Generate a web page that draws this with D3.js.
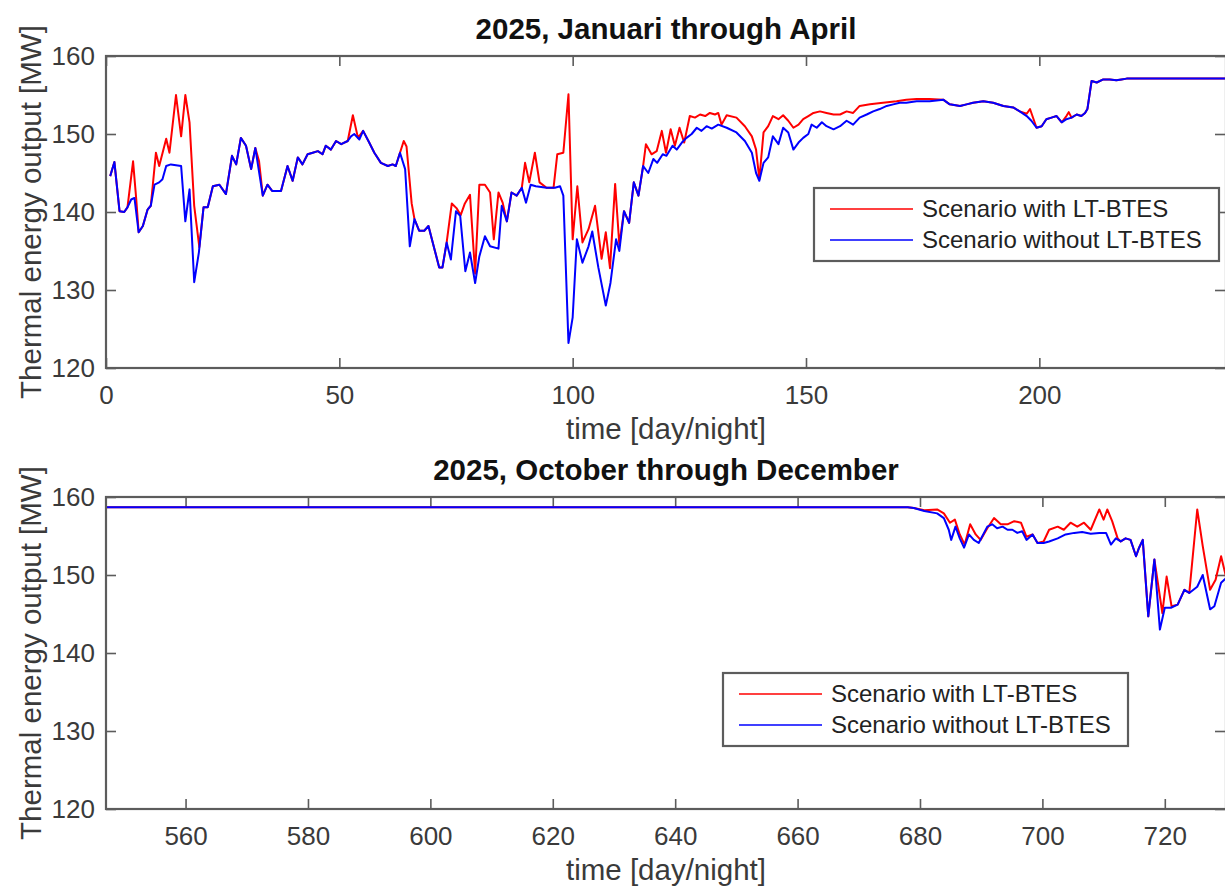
<!DOCTYPE html>
<html>
<head>
<meta charset="utf-8">
<script src="https://cdn.jsdelivr.net/npm/d3@7"></script>
<style>
  body { margin: 0; background: #fff; }
  svg { display: block; font-family: "Liberation Sans", Arial, sans-serif; }
</style>
</head>
<body>
<div id="chart"></div>
<script>
// series names (legend)
const seriesNames = ['Scenario with LT-BTES', 'Scenario without LT-BTES'];
const seriesColors = ['#ff0000', '#0000ff'];

// y ticks shared by both panels
const yTicks = [120, 130, 140, 150, 160];

// panel 1: January - April, [time step, MW]
const janXTicks = [0, 50, 100, 150, 200];
const janWithout = [
  [0.9,144.6],[1.8,146.4],[2.9,140.1],[3.9,140],[4.6,140.6],[5.4,141.6],[6.1,141.8],[7,137.4],[7.9,138.2],[8.9,140.3],
  [9.6,140.8],[10.4,143.5],[11.4,143.8],[12.1,144.2],[12.9,145.9],[13.9,146.1],[16.1,145.9],[17,138.8],[17.9,142.9],[18.9,131],
  [19.9,134.8],[20.9,140.6],[21.8,140.6],[22.9,143.3],[24.3,143.5],[25.7,142.3],[27,147.2],[27.9,146.1],[28.9,149.5],[30,148.5],
  [31.1,145.5],[32,148.2],[33.6,142.1],[34.6,143.5],[35.6,142.7],[37.5,142.7],[38.9,145.9],[40,144],[41.1,147],[42.1,146.1],
  [43.2,147.4],[44.3,147.6],[45.4,147.8],[46.4,147.4],[47.1,148.5],[48.2,148],[49.3,149.1],[50.4,148.7],[51.8,149.1],[52.5,149.7],
  [53.2,150],[54.3,149.3],[55.1,150.4],[56.4,148.9],[57.5,147.6],[58.9,146.3],[60.4,145.9],[61.4,146.1],[62.1,145.9],[63,147.6],
  [64.1,145.5],[65.1,135.6],[66.1,139.1],[67.1,137.6],[68.2,137.6],[69.1,138.2],[70.4,135.2],[71.4,132.9],[72.1,132.9],[73,136.1],
  [73.9,133.9],[75,140.1],[75.9,139.5],[77,132.4],[78,134.8],[79.1,130.9],[80,134.3],[81.2,136.9],[82.3,135.6],[84.1,135.3],
  [84.8,140.8],[85.9,138.8],[86.9,142.5],[88,142.1],[89.1,143.1],[90,141.2],[91,143.5],[92.1,143.3],[94.4,143.1],[96.2,143.1],
  [97.3,143.3],[98,142.1],[99.1,123.2],[100,126.5],[100.9,136.5],[102.1,133.5],[103.4,135.6],[104.2,137.5],[105.5,132.9],[107.1,128],
  [108.1,130.9],[109.3,136.5],[110,135],[111,140.1],[112.1,138.6],[113.1,143.8],[114.1,142.1],[115.1,145.9],[116.2,145],[117.3,146.8],
  [118.1,146.3],[119.3,147.4],[120.1,147.2],[121.4,148.5],[122.3,148],[123.4,148.9],[124.4,149.5],[125.5,150],[126.6,150.8],[127.6,150.4],
  [128.7,151],[129.8,150.7],[131.2,151.2],[133,150.8],[135.1,150.2],[136.9,149.1],[138.4,147.6],[139.3,145],[140,144],[140.9,146.3],
  [141.9,147],[142.9,149.7],[144.1,148.7],[145.1,150.8],[146.2,150.2],[147.3,148],[148.4,148.9],[149.4,149.5],[150.5,150],[151.2,151.2],
  [152.3,150.8],[153.4,151.5],[154.4,151],[155.9,150.6],[157.3,151],[158.7,151.7],[160.1,151.2],[161.5,152.1],[163,152.5],[164.4,152.9],
  [165.8,153.2],[167.3,153.6],[168.7,153.8],[170.1,154],[171.5,154],[173.7,154.2],[176.5,154.2],[179.4,154.4],[180.8,153.8],[183,153.6],
  [184.4,153.8],[185.8,154],[188,154.2],[190.1,154],[192.3,153.6],[194.4,153.4],[195.8,152.9],[197.3,152.3],[198.3,151.7],[199.4,150.8],
  [200.5,151],[201.5,151.9],[202.6,152.1],[203.7,152.3],[204.8,151.5],[205.8,151.9],[206.9,152.1],[208,152.5],[209,152.3],[209.8,152.7],
  [210.3,153.2],[211.2,156.8],[212.3,156.6],[213.7,157],[215.1,157],[216.5,156.9],[217.6,157],[218.7,157.1],[240,157.1]
];
const janWith = [
  [0.9,144.6],[1.8,146.4],[2.9,140.1],[3.9,140],[4.6,140.6],[5.8,146.5],[6.5,141.5],[7,137.4],[7.9,138.2],[8.9,140.3],
  [9.6,140.8],[10.7,147.6],[11.4,145.9],[12.9,149.4],[13.6,147.6],[15,155],[16.1,149.7],[17,155],[17.9,151.5],[18.9,140.8],
  [20,135.5],[20.9,140.6],[21.8,140.6],[22.9,143.3],[24.3,143.5],[25.7,142.3],[27,147.2],[27.9,146.1],[28.9,149.5],[30,148.5],
  [31.1,145.5],[32,148.2],[32.8,146.5],[33.6,142.1],[34.6,143.5],[35.6,142.7],[37.5,142.7],[38.9,145.9],[40,144],[41.1,147],
  [42.1,146.1],[43.2,147.4],[44.3,147.6],[45.4,147.8],[46.4,147.4],[47.1,148.5],[48.2,148],[49.3,149.1],[50.4,148.7],[51.8,149.1],
  [52.9,152.4],[54,149.5],[55.1,150.4],[56.4,148.9],[57.5,147.6],[58.9,146.3],[60.4,145.9],[61.4,146.1],[62.1,145.9],[63,147.6],
  [63.8,149.1],[64.4,148.4],[65.5,141.1],[66.1,139.1],[67.1,137.6],[68.2,137.6],[69.1,138.2],[70.4,135.2],[71.4,132.9],[72.1,132.9],
  [73,136.1],[74.1,141.1],[75.1,140.5],[76,139.6],[76.9,141.1],[78,142.2],[79.1,132.1],[80,143.5],[81.2,143.5],[82.3,142.5],
  [83.1,136.5],[84.1,142.5],[85,141.2],[85.9,138.8],[86.9,142.5],[88,142.1],[89.1,143.1],[89.8,146.3],[90.7,143.8],[91.9,147.6],
  [92.9,143.8],[94.4,143.1],[95.9,143.1],[96.7,147.4],[98,147.6],[99.1,155.1],[100,136.5],[101,143.3],[102.1,136.1],[103.4,137.8],
  [104.8,140.8],[106.2,134],[107.1,137.4],[108,132.8],[109.1,143.6],[110,135.8],[111,140.1],[112.1,138.6],[113.1,143.8],[114.1,142.1],
  [115.1,145.9],[115.7,148.7],[116.9,147.4],[118,147.8],[119.1,150.4],[120,147.6],[121,150.6],[121.9,148.5],[122.9,150.8],[123.9,148.9],
  [125.1,152.3],[126.2,152.1],[127.3,152.5],[128.4,152.3],[129.4,152.7],[130.5,152.5],[131.2,152.7],[131.9,151.2],[133,152.4],[135.1,152.1],
  [136.9,151],[138.4,149.7],[139.3,148],[140,144.2],[140.9,150.2],[141.9,151],[142.9,152.3],[144.1,151.9],[145.1,152.4],[146.2,151.7],
  [147.3,150.8],[148.4,151.2],[149.4,151.9],[150.5,152.3],[151.6,152.7],[153,152.9],[154.4,152.7],[155.9,152.5],[157.3,152.5],[158.7,152.9],
  [160.1,152.7],[161.5,153.6],[163.7,153.8],[166.5,154],[169.4,154.2],[171.5,154.4],[173.7,154.5],[176.5,154.5],[179.4,154.4],[180.8,153.8],
  [183,153.6],[184.4,153.8],[185.8,154],[188,154.2],[190.1,154],[192.3,153.6],[194.4,153.4],[195.8,152.9],[197.3,152.6],[198,153.2],
  [199.4,150.8],[200.5,151],[201.5,151.9],[202.6,152.1],[203.7,152.3],[204.8,151.5],[205.8,152.3],[206.3,152.8],[206.9,152.1],[208,152.5],
  [209,152.3],[209.8,152.7],[210.3,153.2],[211.2,156.8],[212.3,156.6],[213.7,157],[215.1,157],[216.5,156.9],[217.6,157],[218.7,157.1],
  [240,157.1]
];

// panel 2: October - December
const octXTicks = [560, 580, 600, 620, 640, 660, 680, 700, 720];
const octWithout = [
  [547,158.7],[678,158.7],[679,158.6],[680.7,158.2],[682.8,157.9],[683.9,157.3],[684.7,155.8],[685.1,154.5],[685.8,156.2],[686.5,154.7],
  [687.2,153.5],[688,155.2],[688.8,154.5],[689.6,154.1],[691,156.2],[691.8,156.5],[692.6,156],[693.5,156.2],[694.3,155.8],[695.1,155.8],
  [695.9,155.4],[696.7,155.6],[697.4,154.5],[698.4,155.2],[699.2,154.1],[700.2,154.1],[701.1,154.3],[702.5,154.7],[703.8,155.2],[705.2,155.4],
  [706.5,155.5],[707.9,155.3],[709.3,155.4],[710.4,155.4],[711.2,153.9],[712,154.7],[712.8,154.3],[713.6,154.7],[714.4,154.5],[715.3,152.4],
  [715.8,153.5],[716.4,154.5],[717.3,144.7],[718.3,152],[719.2,143],[720,145.8],[721,145.8],[722.1,146.2],[723.2,148.1],[724,147.7],
  [725.3,148.5],[726.2,150],[727.4,145.6],[728.1,146],[729.2,149],[730,149.6]
];
const octWith = [
  [547,158.7],[678,158.7],[679,158.6],[680.7,158.3],[682.8,158.4],[683.9,157.9],[684.9,156.7],[685.7,157.1],[686.5,155.2],[687.3,153.9],
  [688.2,156.5],[689.1,155.2],[689.9,154.5],[691,156],[692.1,157.3],[693.2,156.5],[694.3,156.5],[695.4,156.9],[696.5,156.7],[697.4,154.9],
  [698.4,155.2],[699.2,154.1],[700.2,154.3],[701.1,155.8],[702.5,156.2],[703.5,155.8],[704.6,156.7],[705.7,156.2],[706.8,156.7],[707.9,155.8],
  [709.3,158.4],[710,157.1],[710.6,158.4],[711.4,156.9],[712.3,154.7],[712.8,154.3],[713.6,154.7],[714.4,154.5],[715.3,152.4],[715.8,153.5],
  [716.4,154.5],[717.3,144.7],[718.3,152],[719.6,145.1],[720.3,149.8],[721.1,146],[722.1,146.2],[723.2,148.1],[724,147.7],[725.3,158.4],
  [726.2,153.7],[727.4,148.1],[728.3,149.4],[729.2,152.4],[730,149.8]
];

const W = 1225, H = 891;
const axisColor = '#5c5c5c';
const textColor = '#3a3a3a';

const svg = d3.select('#chart').append('svg')
  .attr('width', W)
  .attr('height', H);

const panels = [
  {
    id: 'jan', title: '2025, Januari through April',
    top: 56, bottom: 368, xDomain: [0, 240], xTicks: janXTicks,
    series: [janWith, janWithout], legend: { x: 814, y: 188 }
  },
  {
    id: 'oct', title: '2025, October through December',
    top: 497, bottom: 809, xDomain: [547, 730], xTicks: octXTicks,
    series: [octWith, octWithout], legend: { x: 723, y: 673 }
  }
];

const left = 106, right = 1226;

panels.forEach(p => {
  const g = svg.append('g');
  const x = d3.scaleLinear().domain(p.xDomain).range([left, right]);
  const y = d3.scaleLinear().domain([120, 160]).range([p.bottom, p.top]);

  // clip
  g.append('clipPath').attr('id', 'clip-' + p.id)
    .append('rect')
    .attr('x', left).attr('y', p.top)
    .attr('width', right - left).attr('height', p.bottom - p.top);

  // axes with inward ticks
  const bottomAx = g.append('g')
    .attr('transform', `translate(0,${p.bottom})`)
    .call(d3.axisBottom(x).tickValues(p.xTicks).tickSizeInner(-10).tickSizeOuter(0).tickPadding(18));
  const topAx = g.append('g')
    .attr('transform', `translate(0,${p.top})`)
    .call(d3.axisTop(x).tickValues(p.xTicks).tickSizeInner(-10).tickSizeOuter(0).tickFormat(''));
  const leftAx = g.append('g')
    .attr('transform', `translate(${left},0)`)
    .call(d3.axisLeft(y).tickValues(yTicks).tickSizeInner(-10).tickSizeOuter(0).tickPadding(11));
  const rightAx = g.append('g')
    .attr('transform', `translate(${right - 1},0)`)
    .call(d3.axisRight(y).tickValues(yTicks).tickSizeInner(-10).tickSizeOuter(0).tickFormat(''));

  [bottomAx, topAx, leftAx, rightAx].forEach(a => {
    a.select('.domain').remove();
    a.selectAll('.tick line').attr('stroke', axisColor).attr('stroke-width', 1.6);
    a.selectAll('.tick text')
      .attr('fill', textColor)
      .attr('font-size', 26)
      .attr('font-family', '"Liberation Sans", Arial, sans-serif');
  });

  // lines: red first, blue on top
  const line = d3.line().x(d => x(d[0])).y(d => y(d[1]));
  p.series.forEach((s, i) => {
    g.append('path')
      .datum(s)
      .attr('clip-path', `url(#clip-${p.id})`)
      .attr('fill', 'none')
      .attr('stroke', seriesColors[i])
      .attr('stroke-width', 2)
      .attr('stroke-linejoin', 'round')
      .attr('d', line);
  });

  // box
  g.append('rect')
    .attr('x', left).attr('y', p.top)
    .attr('width', right - left).attr('height', p.bottom - p.top)
    .attr('fill', 'none')
    .attr('stroke', axisColor)
    .attr('stroke-width', 2.2);

  // title
  g.append('text')
    .attr('x', (left + right) / 2)
    .attr('y', p.top - 17)
    .attr('text-anchor', 'middle')
    .attr('font-size', 29.5)
    .attr('font-weight', 'bold')
    .attr('fill', '#111')
    .text(p.title);

  // x label
  g.append('text')
    .attr('x', (left + right) / 2)
    .attr('y', p.bottom + 71)
    .attr('text-anchor', 'middle')
    .attr('font-size', 29.5)
    .attr('fill', textColor)
    .text('time [day/night]');

  // y label
  g.append('text')
    .attr('transform', `translate(41,${(p.top + p.bottom) / 2}) rotate(-90)`)
    .attr('text-anchor', 'middle')
    .attr('font-size', 29.5)
    .attr('fill', textColor)
    .text('Thermal energy output [MW]');

  // legend
  const lg = g.append('g').attr('transform', `translate(${p.legend.x},${p.legend.y})`);
  lg.append('rect')
    .attr('width', 405).attr('height', 73)
    .attr('fill', '#fff')
    .attr('stroke', axisColor)
    .attr('stroke-width', 2.2);
  seriesNames.forEach((name, i) => {
    const ry = 21 + i * 31;
    lg.append('line')
      .attr('x1', 16).attr('x2', 99)
      .attr('y1', ry).attr('y2', ry)
      .attr('stroke', seriesColors[i])
      .attr('stroke-opacity', 0.75)
      .attr('stroke-width', 2);
    lg.append('text')
      .attr('x', 108).attr('y', ry)
      .attr('dy', '0.35em')
      .attr('font-size', 24)
      .attr('fill', '#222')
      .text(name);
  });
});
</script>
</body>
</html>
